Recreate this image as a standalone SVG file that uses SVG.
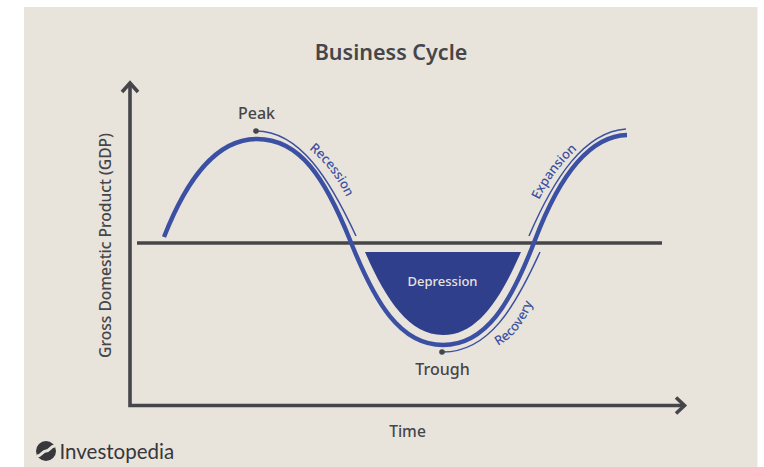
<svg xmlns="http://www.w3.org/2000/svg" width="764" height="467" viewBox="0 0 764 467">
<style>
.t{font-family:"Noto Sans","Open Sans",sans-serif;font-weight:500;fill:#46464a;text-anchor:middle}
.b{font-family:"Noto Sans","Open Sans",sans-serif;font-weight:500;fill:#3c50a0;font-size:13px}
.ax{fill:none;stroke:#46464a;stroke-width:3.600;stroke-linecap:butt}
.thin{fill:none;stroke:#3c50a0;stroke-width:1.500}
.thick{fill:none;stroke:#3c50a3;stroke-width:4.400}
</style>
<defs>
<path id="pRec" d="M309 149C326 163 339 180 349 203"/>
<path id="pRecov" d="M498 346C515 337 528 320 538 288"/>
<path id="pExp" d="M539 200C548 181 562 162 582 145"/>
</defs>
<rect width="764" height="467" fill="#fff"/>
<rect x="24" y="7" width="733.500" height="460" fill="#e8e4dc"/>
<text class="t" x="391" y="60" font-size="21.500" style="font-weight:600">Business Cycle</text>
<g id="connectors">
<path class="ax" d="M130 84V405.500H684"/>
<path class="ax" d="M122 92L130 83L138 92M676 397.500L684.500 405.500L676 413.500" stroke-width="3.200"/>
<path d="M137 243H662" fill="none" stroke="#46464a" stroke-width="3.400"/>
<path class="thick" d="M164 237C186 181 215 139 257 139C300 139 325 178 350 240C375 303 400 345 443 345C486 345 511 303 535 240C560 174 590 136 627 135"/>
<path class="thin" d="M256 131C300 131 330 180 356 236"/>
<path class="thin" d="M443 352C489 352 515 307 540 252"/>
<path class="thin" d="M529 236C554 178 584 132 626 129"/>
</g>
<g id="depression"><path d="M365 252H521C500 300 477 335 443 335C409 335 386 300 365 252Z" fill="#2f3f8c"/><text x="442.500" y="286" font-size="13" text-anchor="middle" font-family="Noto Sans,Open Sans,sans-serif" font-weight="500" fill="#e8e4dc">Depression</text></g>
<g id="peak"><circle cx="256" cy="131" r="2.800" fill="#46464a"/><text class="t" x="256.500" y="119" font-size="16">Peak</text></g>
<g id="trough"><circle cx="442" cy="352" r="2.800" fill="#46464a"/><text class="t" x="442.500" y="375" font-size="16">Trough</text></g>
<g id="recession"><text class="b"><textPath href="#pRec">Recession</textPath></text></g>
<g id="recovery"><text class="b"><textPath href="#pRecov">Recovery</textPath></text></g>
<g id="expansion"><text class="b"><textPath href="#pExp">Expansion</textPath></text></g>
<g id="y-label"><text class="t" transform="translate(111 245.500) rotate(-90)" font-size="15.600">Gross Domestic Product (GDP)</text></g>
<g id="x-label"><text class="t" x="407.500" y="437" font-size="15.600">Time</text></g>
<g id="logo"><circle cx="46" cy="451" r="10" fill="#37373c"/><path d="M37 456C42 456 42 451 46 451C50 451 50 446 55 446" fill="none" stroke="#e8e4dc" stroke-width="3"/><text x="59.500" y="458.500" font-size="20.500" font-family="Lato,Open Sans,sans-serif" font-weight="400" fill="#37373c">Investopedia</text></g>
</svg>
